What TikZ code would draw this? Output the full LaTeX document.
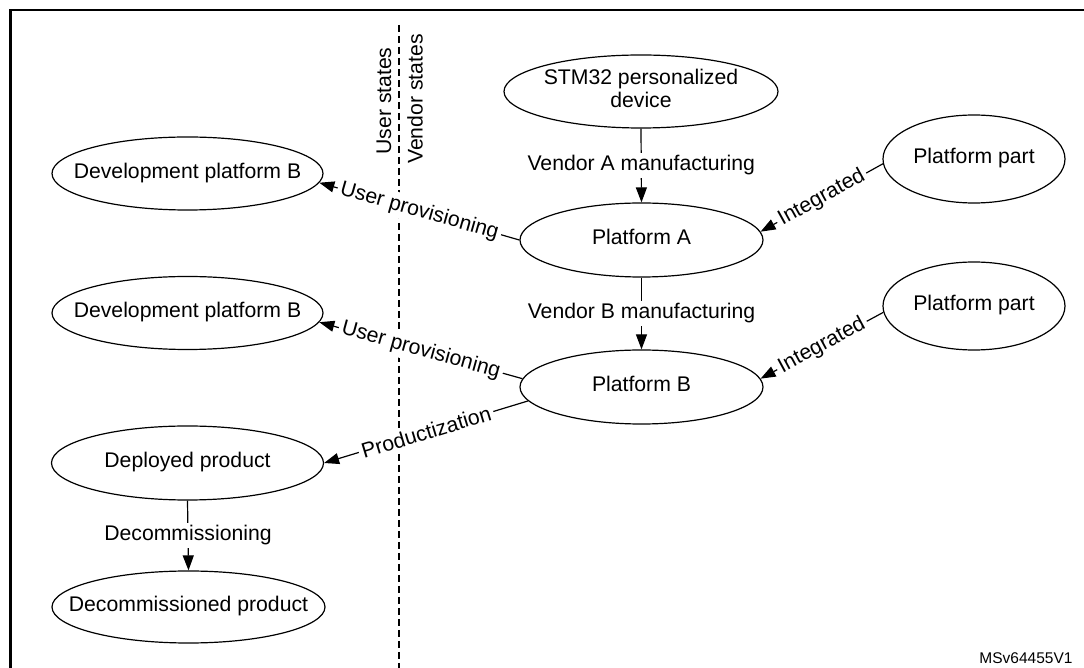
\documentclass[tikz,border=0pt]{standalone}
\usepackage{fontspec}
\setmainfont{Liberation Sans}
\usetikzlibrary{shapes.geometric,arrows.meta}
\newcommand{\zwtext}[1]{\makebox[0pt][c]{\raisebox{-1pt}{\begin{tabular}{@{}c@{}}#1\end{tabular}}}}
\begin{document}
\begin{tikzpicture}[x=0.5pt,y=-0.5pt,
  font=\fontsize{10.6}{11.5}\selectfont,
  st/.style={ellipse,draw,line width=0.6pt,inner sep=0pt},
  conn/.style={line width=0.6pt,-{Triangle[length=7.5pt,width=5.5pt]}},
  lbl/.style={fill=white,inner sep=1.5pt},
  divider/.style={line width=0.6pt,dash pattern=on 3.5pt off 2pt},
  frameline/.style={line width=1.15pt}
]
\useasboundingbox (0,0) rectangle (1084,668);

% frame
\coordinate (fbl) at (10.5,668);
\coordinate (ftl) at (10.5,10);
\coordinate (ftr) at (1084,10);
\draw[frameline] (fbl) -- (ftl) -- (ftr);

% divider
\coordinate (dtop) at (399,25);
\coordinate (dbot) at (399,668);
\draw[divider] (dtop) -- (dbot);
\node[rotate=90] (us) at (384,101) {User states};
\node[rotate=90] (vs) at (415,99) {Vendor states};

% states
\node[st,minimum width=137pt,minimum height=36.5pt] (stm) at (641,91.5) {\zwtext{STM32 personalized\\device}};
\node[st,minimum width=121.5pt,minimum height=37pt] (pa) at (641.5,240) {\zwtext{Platform A}};
\node[st,minimum width=121.5pt,minimum height=37pt] (pb) at (641.5,387) {\zwtext{Platform B}};
\node[st,minimum width=91pt,minimum height=44pt] (pp1) at (974,159) {\zwtext{Platform part}};
\node[st,minimum width=91pt,minimum height=44pt] (pp2) at (974,306) {\zwtext{Platform part}};
\node[st,minimum width=135.5pt,minimum height=36.5pt] (dev1) at (187.5,173.5) {\zwtext{Development platform B}};
\node[st,minimum width=135.5pt,minimum height=36.5pt] (dev2) at (187.5,313) {\zwtext{Development platform B}};
\node[st,minimum width=136pt,minimum height=37pt] (dep) at (187.5,463) {\zwtext{Deployed product}};
\node[st,minimum width=136.5pt,minimum height=36pt] (dec) at (188.5,607) {\zwtext{Decommissioned product}};

% connectors
\draw[conn] (stm.south) -- node[lbl]{Vendor A manufacturing} (pa.north);
\draw[conn] (pa.south) -- node[lbl]{Vendor B manufacturing} (pb.north);
\draw[conn] (dep.south) -- node[lbl]{Decommissioning} (dec.north);
\draw[conn] (pp1.183) -- node[lbl,sloped]{Integrated} (pa.4);
\draw[conn] (pp2.184) -- node[lbl,sloped]{Integrated} (pb.4);
\draw[conn] (pa.west) -- node[lbl,sloped]{User provisioning} (dev1.-4);
\draw[conn] (pb.176) -- node[lbl,sloped]{User provisioning} (dev2.-4);
\draw[conn] (pb.187) -- node[lbl,sloped]{Productization} (dep.east);

\node[font=\fontsize{7.75}{9}\selectfont] (id) at (1026,658) {MSv64455V1};
\end{tikzpicture}
\end{document}
